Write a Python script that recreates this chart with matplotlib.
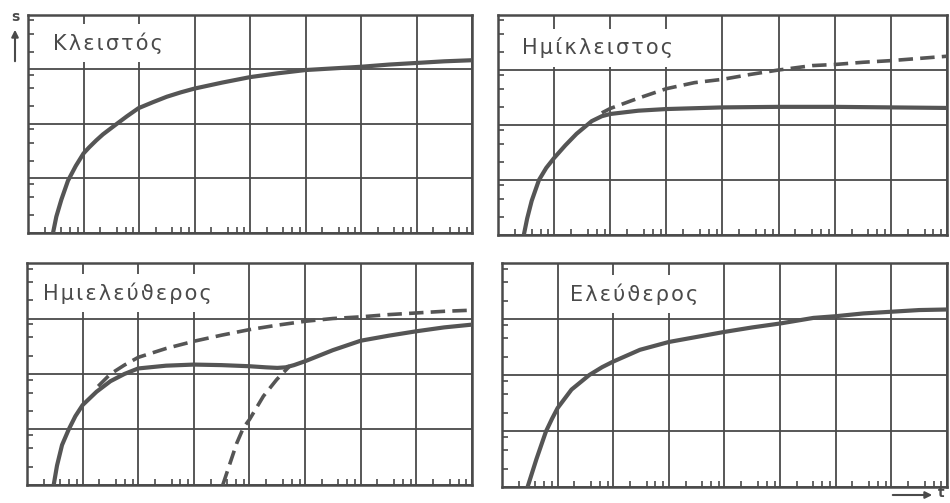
import matplotlib
matplotlib.use("Agg")
import matplotlib.pyplot as plt

# grid units: x 0..8 cells, y 0..4 cells
titles = ["Κλειστός", "Ημίκλειστος", "Ημιελεύϑερος", "Ελεύϑερος"]

# Κλειστός
k_x = [0.45, 0.51, 0.6, 0.72, 0.86, 1.0, 1.1, 1.23, 1.35, 1.57, 1.78, 1.99, 2.25, 2.5,
       2.75, 3.0, 3.5, 4.0, 4.5, 5.0, 5.5, 6.0, 6.5, 7.0, 7.5, 8.0]
k_y = [0.0, 0.3, 0.61, 0.96, 1.23, 1.46, 1.57, 1.7, 1.81, 1.98, 2.14, 2.29, 2.4, 2.5,
       2.58, 2.65, 2.76, 2.86, 2.93, 2.99, 3.02, 3.05, 3.09, 3.12, 3.15, 3.17]

# Ημίκλειστος
hk_x = [0.46, 0.52, 0.6, 0.73, 0.86, 1.0, 1.2, 1.4, 1.67, 1.85, 2.0, 2.5, 3.0, 4.0,
        5.0, 6.0, 7.0, 8.0]
hk_y = [0.0, 0.3, 0.62, 1.0, 1.22, 1.4, 1.63, 1.84, 2.07, 2.16, 2.2, 2.26, 2.29, 2.32,
        2.33, 2.33, 2.32, 2.31]
hk_dx = [1.85, 2.0, 2.48, 3.0, 3.5, 4.0, 4.5, 5.0, 5.6, 6.0, 6.5, 7.0, 7.5, 8.0]
hk_dy = [2.22, 2.3, 2.48, 2.66, 2.77, 2.83, 2.92, 3.0, 3.08, 3.1, 3.14, 3.17, 3.21, 3.25]

# Ημιελεύθερος
he_x = [0.48, 0.54, 0.63, 0.75, 0.87, 1.0, 1.25, 1.5, 1.75, 2.0, 2.5, 3.0, 3.5, 4.0,
        4.3, 4.5, 4.65, 4.8, 5.0, 5.5, 6.0, 6.5, 7.0, 7.5, 8.0]
he_y = [0.0, 0.35, 0.72, 1.0, 1.24, 1.44, 1.68, 1.87, 2.0, 2.1, 2.15, 2.17, 2.16, 2.14,
        2.12, 2.11, 2.12, 2.16, 2.23, 2.43, 2.6, 2.69, 2.77, 2.84, 2.89]
he_ux = [1.28, 1.5, 1.75, 2.0, 2.5, 3.0, 3.5, 4.0, 4.5, 5.0, 5.5, 6.0, 6.5, 7.0, 7.5, 8.0]
he_uy = [1.78, 2.0, 2.16, 2.3, 2.46, 2.59, 2.7, 2.8, 2.88, 2.95, 3.0, 3.03, 3.07, 3.1,
         3.13, 3.15]
he_lx = [3.52, 3.65, 3.77, 3.89, 4.0, 4.25, 4.49, 4.73]
he_ly = [0.0, 0.39, 0.75, 1.03, 1.18, 1.6, 1.9, 2.15]

# Ελεύθερος
e_x = [0.46, 0.62, 0.79, 0.9, 1.0, 1.25, 1.57, 1.8, 2.0, 2.48, 3.0, 3.5, 4.0, 4.5, 5.0,
       5.6, 6.0, 6.5, 7.0, 7.5, 8.0]
e_y = [0.0, 0.5, 0.99, 1.22, 1.41, 1.74, 2.0, 2.14, 2.24, 2.45, 2.59, 2.68, 2.77, 2.85,
       2.92, 3.02, 3.05, 3.1, 3.13, 3.16, 3.17]

ink = "#4a4a4a"
curve = "#555555"

fig = plt.figure(figsize=(9.5, 5.03), dpi=100)
boxes = [[0.0295, 0.5368, 0.4674, 0.4334],
         [0.5242, 0.5328, 0.4726, 0.4374],
         [0.0284, 0.0358, 0.4684, 0.4413],
         [0.5284, 0.0318, 0.4684, 0.4453]]
label_pos = [(0.056, 0.87), (0.053, 0.85), (0.036, 0.865), (0.153, 0.86)]

axes = []
for b in boxes:
    ax = fig.add_axes(b)
    ax.set_xlim(0, 8)
    ax.set_ylim(0, 4)
    ax.set_xticks(range(9))
    ax.set_yticks(range(5))
    ax.set_xticks([c + f for c in range(8) for f in (0.3, 0.6, 0.76, 0.9)], minor=True)
    ax.set_yticks([c + f for c in range(4) for f in (0.33, 0.66, 0.9)], minor=True)
    ax.tick_params(which="both", direction="in", labelbottom=False, labelleft=False,
                   top=False, right=False, color=ink)
    ax.tick_params(which="major", length=0)
    ax.tick_params(which="minor", length=4, width=1.2)
    ax.grid(True, which="major", color=ink, lw=1.3)
    ax.set_axisbelow(True)
    for s in ax.spines.values():
        s.set_color(ink)
        s.set_linewidth(1.8)
    axes.append(ax)

dash = (0, (4, 2))
solid = dict(color=curve, lw=3, solid_joinstyle="round", zorder=3)
dashed = dict(color=curve, lw=2.6, ls=dash, dash_joinstyle="round", zorder=3)
axes[0].plot(k_x, k_y, **solid)
axes[1].plot(hk_x, hk_y, **solid)
axes[1].plot(hk_dx, hk_dy, **dashed)
axes[2].plot(he_x, he_y, **solid)
axes[2].plot(he_ux, he_uy, **dashed)
axes[2].plot(he_lx, he_ly, **dashed)
axes[3].plot(e_x, e_y, **solid)

for ax, t, (lx, ly) in zip(axes, titles, label_pos):
    ax.text(lx, ly, "\u200a".join(t), transform=ax.transAxes, ha="left", va="center",
            fontsize=15, color=ink, family="DejaVu Sans", zorder=4,
            bbox=dict(facecolor="white", edgecolor="none", pad=6))

# axis arrows
fig.text(15 / 950, 1 - 17 / 503, "s", ha="center", va="center", fontsize=10,
         fontweight="bold", color=ink)
fig.add_artist(matplotlib.patches.FancyArrowPatch(
    (15 / 950, 1 - 64 / 503), (15 / 950, 1 - 27 / 503), transform=fig.transFigure,
    arrowstyle="-|>", mutation_scale=10, color=ink, lw=1.5))
fig.add_artist(matplotlib.patches.FancyArrowPatch(
    (890 / 950, 1 - 495 / 503), (935 / 950, 1 - 495 / 503), transform=fig.transFigure,
    arrowstyle="-|>", mutation_scale=10, color=ink, lw=1.5))
fig.text(938 / 950, 1 - 493 / 503, "t", ha="left", va="center", fontsize=10,
         fontweight="bold", color=ink)

fig.savefig("out.png", dpi=100, facecolor="white")
